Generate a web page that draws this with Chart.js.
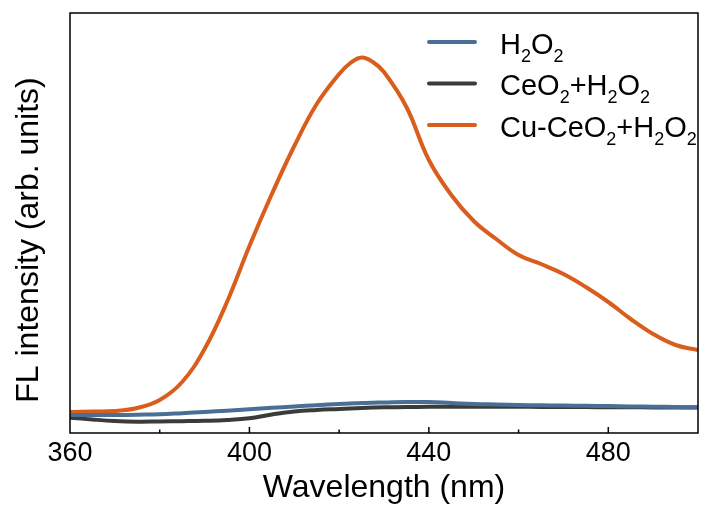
<!DOCTYPE html>
<html>
<head>
<meta charset="utf-8">
<script src="https://cdn.jsdelivr.net/npm/chart.js@4.4.0/dist/chart.umd.min.js"></script>
<style>
  html, body { margin: 0; padding: 0; background: #fff; }
  #wrap { width: 702px; height: 509px; }
</style>
</head>
<body>
<div id="wrap"><canvas id="fl-canvas" width="702" height="509"></canvas></div>
<script>
// emission spectra, 360-500 nm
const wavelengths = [360, 365, 370, 375, 380, 385, 390, 395, 400, 405, 410, 415, 420, 422.5, 425, 427.5, 430,
  435, 440, 445, 450, 455, 460, 465, 470, 475, 480, 485, 490, 495, 500];

const h2o2 = [18, 18, 18, 18.3, 18.7, 19.8, 21, 22.3, 23.7, 25.2, 26.5, 27.8, 29, 29.5, 30, 30.3, 30.5,
  31, 31, 30, 29, 28.5, 28, 27.7, 27.5, 27.2, 27, 26.6, 26.3, 26, 25.7];

const ceo2H2o2 = [15.3, 13.5, 12, 11.3, 11.5, 11.8, 12.2, 13, 14.7, 18.5, 21.5, 23, 24, 24.5, 25, 25.4, 25.7,
  26, 26.2, 26.3, 26.3, 26.2, 26.2, 26.1, 26, 25.9, 25.8, 25.7, 25.6, 25.5, 25.4];

const cuCeo2H2o2 = [21, 21.5, 22, 25, 33, 51, 84, 131, 187, 239, 287, 329, 359, 370, 375.5, 371, 361,
  326, 273, 238, 212, 194, 178, 169, 159, 146, 131, 114, 99, 88, 83];

const seriesLabels = ['H₂O₂', 'CeO₂+H₂O₂', 'Cu-CeO₂+H₂O₂'];
const seriesColors = ['#4a6f96', '#3b3b3b', '#d95d1c'];
const seriesValues = [h2o2, ceo2H2o2, cuCeo2H2o2];

const xMajorTicks = [360, 400, 440, 480];

const FONT = '"Liberation Sans", Arial, Helvetica, sans-serif';
const SUBS = '₀₁₂₃₄₅₆₇₈₉';

// draws a label where unicode subscript digits are set smaller and lower
function drawChemLabel(ctx, text, x, baseline) {
  let cx = x;
  for (const ch of text) {
    const si = SUBS.indexOf(ch);
    if (si >= 0) {
      ctx.font = '18px ' + FONT;
      ctx.fillText(String(si), cx, baseline + 8);
      cx += ctx.measureText(String(si)).width;
    } else {
      ctx.font = '29px ' + FONT;
      ctx.fillText(ch, cx, baseline);
      cx += ctx.measureText(ch).width;
    }
  }
}

const framePlugin = {
  id: 'frame',
  afterDraw(chart) {
    const { ctx, chartArea: a, scales } = chart;
    ctx.save();

    // box round the plot
    ctx.strokeStyle = '#000';
    ctx.lineWidth = 1.5;
    ctx.strokeRect(a.left, a.top, a.right - a.left, a.bottom - a.top);

    // inward ticks on the wavelength axis
    scales.x.ticks.forEach(t => {
      if (t.value <= scales.x.min || t.value >= scales.x.max) return;
      const px = scales.x.getPixelForValue(t.value);
      const len = xMajorTicks.includes(t.value) ? 6 : 3.5;
      ctx.beginPath();
      ctx.moveTo(px, a.bottom);
      ctx.lineTo(px, a.bottom - len);
      ctx.stroke();
    });

    // y axis title
    ctx.save();
    ctx.translate(29, 240);
    ctx.rotate(-Math.PI / 2);
    ctx.fillStyle = '#000';
    ctx.font = '32px ' + FONT;
    ctx.textAlign = 'center';
    ctx.textBaseline = 'middle';
    ctx.fillText('FL intensity (arb. units)', 0, 0);
    ctx.restore();

    // legend
    const rowY = [42, 83.5, 125];
    chart.data.datasets.forEach((ds, i) => {
      ctx.strokeStyle = ds.borderColor;
      ctx.lineWidth = 4;
      ctx.lineCap = 'round';
      ctx.beginPath();
      ctx.moveTo(429, rowY[i]);
      ctx.lineTo(475, rowY[i]);
      ctx.stroke();
      ctx.fillStyle = '#000';
      ctx.textBaseline = 'alphabetic';
      ctx.textAlign = 'left';
      drawChemLabel(ctx, ds.label, 500, rowY[i] + 11.5);
    });

    ctx.restore();
  }
};

const chart = new Chart(document.getElementById('fl-canvas'), {
  type: 'line',
  data: {
    datasets: seriesLabels.map((label, i) => ({
      label: label,
      data: wavelengths.map((w, j) => ({ x: w, y: seriesValues[i][j] })),
      borderColor: seriesColors[i],
      borderWidth: 4,
      pointRadius: 0,
      tension: 0.4,
      fill: false
    }))
  },
  options: {
    responsive: false,
    animation: false,
    devicePixelRatio: 1,
    layout: { padding: { left: 0, right: 1, top: 13, bottom: 0 } },
    plugins: {
      legend: { display: false },
      tooltip: { enabled: false }
    },
    scales: {
      x: {
        type: 'linear',
        min: 360,
        max: 500,
        afterFit: s => { s.height = 76; },
        grid: { display: false, drawTicks: false },
        border: { display: false },
        ticks: {
          stepSize: 20,
          autoSkip: false,
          maxRotation: 0,
          padding: 4,
          color: '#000',
          font: { family: FONT, size: 27 },
          callback: v => (xMajorTicks.includes(v) ? String(v) : '')
        },
        title: {
          display: true,
          text: 'Wavelength (nm)',
          color: '#000',
          font: { family: FONT, size: 32 },
          padding: { top: 0, bottom: 2 }
        }
      },
      y: {
        min: 0,
        max: 420,
        afterFit: s => { s.width = 70; },
        grid: { display: false, drawTicks: false },
        border: { display: false },
        ticks: { display: false }
      }
    }
  },
  plugins: [framePlugin]
});
</script>
</body>
</html>
